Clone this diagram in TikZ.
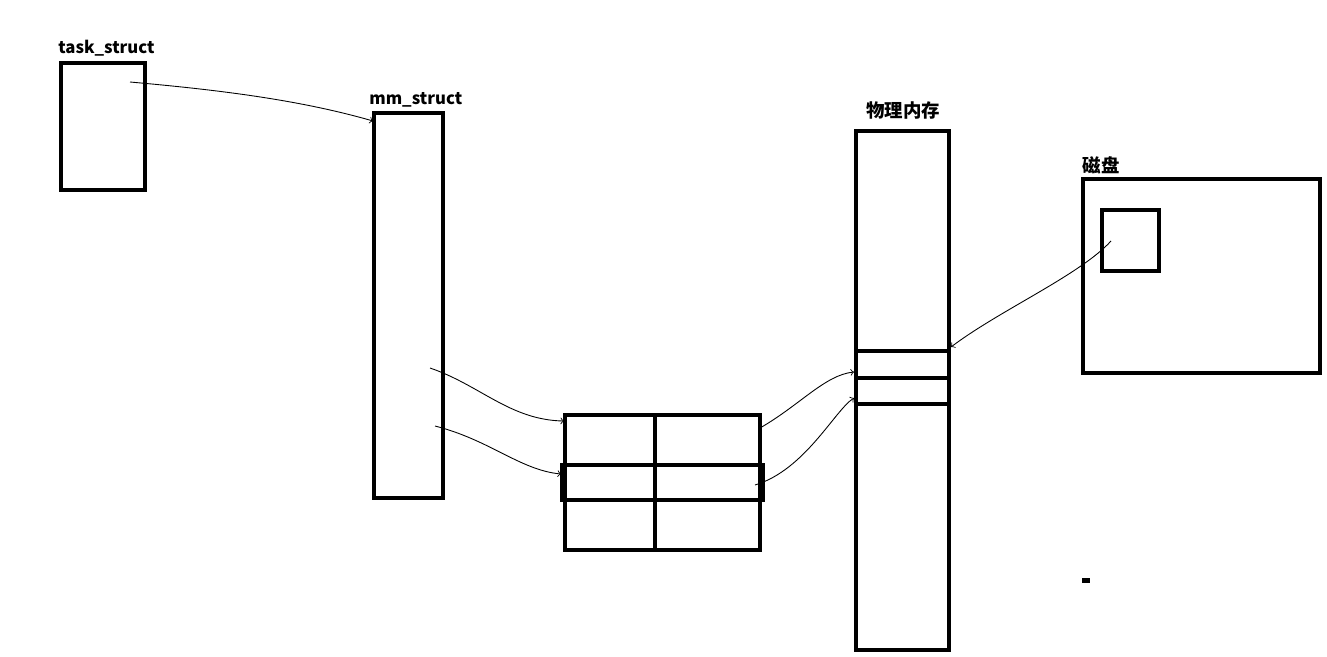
\documentclass[tikz,border=0pt]{standalone}
\usepackage{fontspec}
\setmainfont{Noto Sans CJK SC}
\usepackage{tikz}
\usetikzlibrary{calc}

\tikzset{
  box/.style = {line width = 2.2pt, black},
  link/.style = {line width = .5pt, black, ->},
  title/.style = {font = \bfseries\fontsize{9.5}{11}\selectfont, inner sep = 0pt}
}

\begin{document}
\begin{tikzpicture}[x = .02cm, y = -.02cm]
  \useasboundingbox (0,0) rectangle (1327,656);

% task_struct
  \draw[box] (61,63) rectangle (145,190);
  \node[title, anchor = base west] (taskLabel) at (58,53) {task\_struct};
  \node[shape = coordinate] (taskPtr) at (130,82) {};

% mm_struct
  \draw[box] (374,113) rectangle (443,498);
  \node[title, anchor = base west] (mmLabel) at (369,104) {mm\_struct};
  \node[shape = coordinate] (mmIn) at (373,121) {};
  \node[shape = coordinate] (mmPtrA) at (430,368) {};
  \node[shape = coordinate] (mmPtrB) at (435,426) {};

% page table
  \draw[box] (565,415) rectangle (760,550);
  \draw[box] (562,465) rectangle (763,500);
  \draw[box] (655,415) -- (655,550);
  \node[shape = coordinate] (rowA) at (564,421) {};
  \node[shape = coordinate] (rowB) at (561,474) {};
  \node[shape = coordinate] (rowAOut) at (760,428) {};
  \node[shape = coordinate] (rowBOut) at (755,485) {};

% physical memory
  \draw[box] (856,131) rectangle (949,650);
  \foreach \y in {351,378,404}
    \draw[box] (856,\y) -- (949,\y);
  \node[title, font = \bfseries\fontsize{10.5}{12}\selectfont] (memLabel) at (903,110) {物理内存};
  \node[shape = coordinate] (frameA) at (854,372) {};
  \node[shape = coordinate] (frameB) at (854,398) {};
  \node[shape = coordinate] (frameIn) at (951,347) {};

% disk
  \draw[box] (1083,179) rectangle (1320,373);
  \draw[box] (1102,210) rectangle (1159,271);
  \node[title, font = \bfseries\fontsize{10.5}{12}\selectfont] (diskLabel) at (1101,165) {磁盘};
  \node[shape = coordinate] (diskPage) at (1111,241) {};
  \fill[black] (1082,578) rectangle (1090,583);

% links
  \draw[link] (taskPtr) .. controls (220,90) and (300,100) .. (mmIn);
  \draw[link] (mmPtrA) .. controls (480,385) and (510,420) .. (rowA);
  \draw[link] (mmPtrB) .. controls (490,440) and (520,470) .. (rowB);
  \draw[link] (rowAOut) .. controls (800,405) and (825,375) .. (frameA);
  \draw[link] (rowBOut) .. controls (805,470) and (835,410) .. (frameB);
  \draw[link] (diskPage) .. controls (1080,275) and (1000,310) .. (frameIn);

\end{tikzpicture}
\end{document}
